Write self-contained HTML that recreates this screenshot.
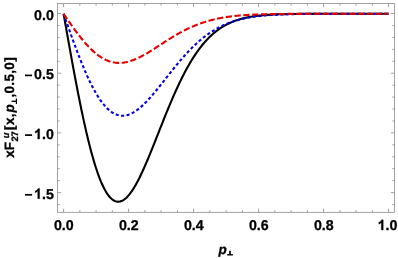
<!DOCTYPE html><html><head><meta charset="utf-8"><style>html,body{margin:0;padding:0;background:#fff}svg{display:block;will-change:transform;text-rendering:geometricPrecision}</style></head><body><svg width="398" height="258" viewBox="0 0 398 258">
<rect width="398" height="258" fill="#fff"/>
<path d="M63.60,212.30 v-3.70 M63.60,3.50 v3.70 M79.85,212.30 v-2.20 M79.85,3.50 v2.20 M96.10,212.30 v-2.20 M96.10,3.50 v2.20 M112.35,212.30 v-2.20 M112.35,3.50 v2.20 M128.60,212.30 v-3.70 M128.60,3.50 v3.70 M144.85,212.30 v-2.20 M144.85,3.50 v2.20 M161.10,212.30 v-2.20 M161.10,3.50 v2.20 M177.35,212.30 v-2.20 M177.35,3.50 v2.20 M193.60,212.30 v-3.70 M193.60,3.50 v3.70 M209.85,212.30 v-2.20 M209.85,3.50 v2.20 M226.10,212.30 v-2.20 M226.10,3.50 v2.20 M242.35,212.30 v-2.20 M242.35,3.50 v2.20 M258.60,212.30 v-3.70 M258.60,3.50 v3.70 M274.85,212.30 v-2.20 M274.85,3.50 v2.20 M291.10,212.30 v-2.20 M291.10,3.50 v2.20 M307.35,212.30 v-2.20 M307.35,3.50 v2.20 M323.60,212.30 v-3.70 M323.60,3.50 v3.70 M339.85,212.30 v-2.20 M339.85,3.50 v2.20 M356.10,212.30 v-2.20 M356.10,3.50 v2.20 M372.35,212.30 v-2.20 M372.35,3.50 v2.20 M388.60,212.30 v-3.70 M388.60,3.50 v3.70 M57.50,13.50 h3.70 M394.50,13.50 h-3.70 M57.50,25.44 h2.20 M394.50,25.44 h-2.20 M57.50,37.38 h2.20 M394.50,37.38 h-2.20 M57.50,49.32 h2.20 M394.50,49.32 h-2.20 M57.50,61.26 h2.20 M394.50,61.26 h-2.20 M57.50,73.20 h3.70 M394.50,73.20 h-3.70 M57.50,85.14 h2.20 M394.50,85.14 h-2.20 M57.50,97.08 h2.20 M394.50,97.08 h-2.20 M57.50,109.02 h2.20 M394.50,109.02 h-2.20 M57.50,120.96 h2.20 M394.50,120.96 h-2.20 M57.50,132.90 h3.70 M394.50,132.90 h-3.70 M57.50,144.84 h2.20 M394.50,144.84 h-2.20 M57.50,156.78 h2.20 M394.50,156.78 h-2.20 M57.50,168.72 h2.20 M394.50,168.72 h-2.20 M57.50,180.66 h2.20 M394.50,180.66 h-2.20 M57.50,192.60 h3.70 M394.50,192.60 h-3.70 M57.50,204.54 h2.20 M394.50,204.54 h-2.20" stroke="#858585" stroke-width="0.75" fill="none"/>
<rect x="57.50" y="3.50" width="337.00" height="208.80" fill="none" stroke="#858585" stroke-width="0.75"/>
<clipPath id="c"><rect x="57.50" y="3.50" width="337.00" height="208.80"/></clipPath>
<g clip-path="url(#c)" fill="none" stroke-width="2.1">
<path d="M63.60,13.80 L64.41,18.41 L65.22,23.02 L66.04,27.62 L66.85,32.21 L67.66,36.79 L68.47,41.35 L69.29,45.90 L70.10,50.42 L70.91,54.92 L71.72,59.39 L72.54,63.84 L73.35,68.25 L74.16,72.62 L74.98,76.96 L75.79,81.25 L76.60,85.50 L77.41,89.70 L78.22,93.86 L79.04,97.96 L79.85,102.01 L80.66,106.00 L81.47,109.93 L82.29,113.80 L83.10,117.61 L83.91,121.35 L84.72,125.02 L85.54,128.62 L86.35,132.15 L87.16,135.60 L87.97,138.98 L88.79,142.29 L89.60,145.51 L90.41,148.65 L91.23,151.71 L92.04,154.69 L92.85,157.58 L93.66,160.38 L94.47,163.10 L95.29,165.73 L96.10,168.26 L96.91,170.71 L97.72,173.07 L98.54,175.33 L99.35,177.51 L100.16,179.58 L100.97,181.57 L101.79,183.46 L102.60,185.26 L103.41,186.96 L104.22,188.57 L105.04,190.08 L105.85,191.50 L106.66,192.82 L107.47,194.05 L108.29,195.19 L109.10,196.23 L109.91,197.18 L110.72,198.04 L111.54,198.80 L112.35,199.47 L113.16,200.05 L113.97,200.55 L114.79,200.95 L115.60,201.27 L116.41,201.50 L117.22,201.64 L118.04,201.70 L118.85,201.67 L119.66,201.57 L120.47,201.38 L121.29,201.11 L122.10,200.77 L122.91,200.34 L123.72,199.85 L124.54,199.27 L125.35,198.63 L126.16,197.92 L126.97,197.14 L127.79,196.29 L128.60,195.37 L129.41,194.39 L130.22,193.35 L131.04,192.25 L131.85,191.09 L132.66,189.88 L133.47,188.61 L134.29,187.29 L135.10,185.91 L135.91,184.49 L136.72,183.02 L137.54,181.51 L138.35,179.95 L139.16,178.35 L139.97,176.71 L140.79,175.03 L141.60,173.32 L142.41,171.58 L143.22,169.80 L144.04,167.99 L144.85,166.15 L145.66,164.29 L146.47,162.40 L147.29,160.49 L148.10,158.56 L148.91,156.61 L149.72,154.64 L150.54,152.65 L151.35,150.65 L152.16,148.64 L152.98,146.62 L153.79,144.59 L154.60,142.55 L155.41,140.50 L156.22,138.45 L157.04,136.39 L157.85,134.34 L158.66,132.28 L159.47,130.22 L160.29,128.17 L161.10,126.12 L161.91,124.07 L162.72,122.03 L163.54,120.00 L164.35,117.97 L165.16,115.96 L165.97,113.95 L166.79,111.96 L167.60,109.98 L168.41,108.01 L169.22,106.06 L170.04,104.12 L170.85,102.20 L171.66,100.29 L172.47,98.40 L173.29,96.53 L174.10,94.68 L174.91,92.85 L175.72,91.04 L176.54,89.25 L177.35,87.48 L178.16,85.73 L178.97,84.01 L179.79,82.31 L180.60,80.63 L181.41,78.97 L182.22,77.34 L183.04,75.74 L183.85,74.15 L184.66,72.60 L185.47,71.06 L186.29,69.55 L187.10,68.07 L187.91,66.62 L188.72,65.18 L189.54,63.78 L190.35,62.40 L191.16,61.04 L191.97,59.71 L192.79,58.41 L193.60,57.13 L194.41,55.88 L195.22,54.66 L196.04,53.46 L196.85,52.28 L197.66,51.13 L198.47,50.00 L199.29,48.90 L200.10,47.83 L200.91,46.78 L201.72,45.75 L202.54,44.75 L203.35,43.77 L204.16,42.81 L204.97,41.88 L205.79,40.97 L206.60,40.09 L207.41,39.22 L208.22,38.38 L209.04,37.56 L209.85,36.76 L210.66,35.98 L211.47,35.23 L212.29,34.49 L213.10,33.78 L213.91,33.08 L214.72,32.41 L215.54,31.75 L216.35,31.11 L217.16,30.49 L217.97,29.89 L218.79,29.31 L219.60,28.74 L220.41,28.19 L221.22,27.66 L222.04,27.14 L222.85,26.64 L223.66,26.16 L224.47,25.69 L225.29,25.24 L226.10,24.80 L226.91,24.37 L227.72,23.96 L228.54,23.56 L229.35,23.18 L230.16,22.81 L230.97,22.45 L231.79,22.10 L232.60,21.77 L233.41,21.45 L234.22,21.13 L235.04,20.83 L235.85,20.54 L236.66,20.26 L237.47,19.99 L238.29,19.73 L239.10,19.48 L239.91,19.24 L240.72,19.01 L241.54,18.79 L242.35,18.57 L243.16,18.37 L243.98,18.17 L244.79,17.98 L245.60,17.79 L246.41,17.62 L247.22,17.45 L248.04,17.28 L248.85,17.13 L249.66,16.98 L250.47,16.83 L251.29,16.69 L252.10,16.56 L252.91,16.43 L253.72,16.31 L254.54,16.19 L255.35,16.08 L256.16,15.98 L256.98,15.87 L257.79,15.77 L258.60,15.68 L259.41,15.59 L260.23,15.50 L261.04,15.42 L261.85,15.34 L262.66,15.27 L263.48,15.20 L264.29,15.13 L265.10,15.06 L265.91,15.00 L266.73,14.94 L267.54,14.88 L268.35,14.83 L269.16,14.77 L269.98,14.73 L270.79,14.68 L271.60,14.63 L272.41,14.59 L273.23,14.55 L274.04,14.51 L274.85,14.47 L275.66,14.44 L276.48,14.40 L277.29,14.37 L278.10,14.34 L278.91,14.31 L279.73,14.29 L280.54,14.26 L281.35,14.23 L282.16,14.21 L282.98,14.19 L283.79,14.17 L284.60,14.15 L285.41,14.13 L286.23,14.11 L287.04,14.09 L287.85,14.08 L288.66,14.06 L289.47,14.05 L290.29,14.03 L291.10,14.02 L291.91,14.01 L292.73,13.99 L293.54,13.98 L294.35,13.97 L295.16,13.96 L295.98,13.95 L296.79,13.94 L297.60,13.94 L298.41,13.93 L299.23,13.92 L300.04,13.91 L300.85,13.91 L301.66,13.90 L302.48,13.89 L303.29,13.89 L304.10,13.88 L304.91,13.88 L305.73,13.87 L306.54,13.87 L307.35,13.87 L308.16,13.86 L308.98,13.86 L309.79,13.85 L310.60,13.85 L311.41,13.85 L312.23,13.84 L313.04,13.84 L313.85,13.84 L314.66,13.84 L315.48,13.83 L316.29,13.83 L317.10,13.83 L317.91,13.83 L318.73,13.83 L319.54,13.82 L320.35,13.82 L321.16,13.82 L321.98,13.82 L322.79,13.82 L323.60,13.82 L324.41,13.82 L325.23,13.82 L326.04,13.81 L326.85,13.81 L327.66,13.81 L328.48,13.81 L329.29,13.81 L330.10,13.81 L330.91,13.81 L331.73,13.81 L332.54,13.81 L333.35,13.81 L334.16,13.81 L334.98,13.81 L335.79,13.81 L336.60,13.81 L337.41,13.81 L338.23,13.81 L339.04,13.80 L339.85,13.80 L340.66,13.80 L341.48,13.80 L342.29,13.80 L343.10,13.80 L343.91,13.80 L344.73,13.80 L345.54,13.80 L346.35,13.80 L347.16,13.80 L347.98,13.80 L348.79,13.80 L349.60,13.80 L350.41,13.80 L351.23,13.80 L352.04,13.80 L352.85,13.80 L353.66,13.80 L354.48,13.80 L355.29,13.80 L356.10,13.80 L356.91,13.80 L357.73,13.80 L358.54,13.80 L359.35,13.80 L360.16,13.80 L360.98,13.80 L361.79,13.80 L362.60,13.80 L363.41,13.80 L364.23,13.80 L365.04,13.80 L365.85,13.80 L366.66,13.80 L367.48,13.80 L368.29,13.80 L369.10,13.80 L369.91,13.80 L370.73,13.80 L371.54,13.80 L372.35,13.80 L373.16,13.80 L373.98,13.80 L374.79,13.80 L375.60,13.80 L376.41,13.80 L377.23,13.80 L378.04,13.80 L378.85,13.80 L379.66,13.80 L380.48,13.80 L381.29,13.80 L382.10,13.80 L382.91,13.80 L383.73,13.80 L384.54,13.80 L385.35,13.80 L386.16,13.80 L386.98,13.80 L387.79,13.80 L388.60,13.80" stroke="#000"/>
<path d="M63.60,13.80 L64.41,16.12 L65.22,18.43 L66.04,20.75 L66.85,23.06 L67.66,25.36 L68.47,27.66 L69.29,29.95 L70.10,32.23 L70.91,34.50 L71.72,36.76 L72.54,39.01 L73.35,41.24 L74.16,43.45 L74.98,45.65 L75.79,47.83 L76.60,49.99 L77.41,52.14 L78.22,54.26 L79.04,56.35 L79.85,58.43 L80.66,60.48 L81.47,62.50 L82.29,64.49 L83.10,66.46 L83.91,68.40 L84.72,70.31 L85.54,72.19 L86.35,74.04 L87.16,75.85 L87.97,77.63 L88.79,79.38 L89.60,81.09 L90.41,82.76 L91.23,84.40 L92.04,86.00 L92.85,87.56 L93.66,89.09 L94.47,90.57 L95.29,92.02 L96.10,93.42 L96.91,94.78 L97.72,96.11 L98.54,97.39 L99.35,98.63 L100.16,99.82 L100.97,100.98 L101.79,102.09 L102.60,103.15 L103.41,104.18 L104.22,105.16 L105.04,106.09 L105.85,106.98 L106.66,107.83 L107.47,108.63 L108.29,109.39 L109.10,110.11 L109.91,110.78 L110.72,111.41 L111.54,111.99 L112.35,112.53 L113.16,113.03 L113.97,113.48 L114.79,113.89 L115.60,114.26 L116.41,114.58 L117.22,114.86 L118.04,115.10 L118.85,115.30 L119.66,115.46 L120.47,115.58 L121.29,115.66 L122.10,115.70 L122.91,115.69 L123.72,115.66 L124.54,115.58 L125.35,115.46 L126.16,115.31 L126.97,115.12 L127.79,114.90 L128.60,114.64 L129.41,114.35 L130.22,114.03 L131.04,113.67 L131.85,113.28 L132.66,112.86 L133.47,112.40 L134.29,111.92 L135.10,111.41 L135.91,110.87 L136.72,110.30 L137.54,109.71 L138.35,109.09 L139.16,108.44 L139.97,107.77 L140.79,107.08 L141.60,106.36 L142.41,105.62 L143.22,104.86 L144.04,104.08 L144.85,103.29 L145.66,102.47 L146.47,101.63 L147.29,100.78 L148.10,99.91 L148.91,99.03 L149.72,98.13 L150.54,97.21 L151.35,96.29 L152.16,95.35 L152.98,94.40 L153.79,93.44 L154.60,92.47 L155.41,91.49 L156.22,90.50 L157.04,89.51 L157.85,88.51 L158.66,87.50 L159.47,86.48 L160.29,85.46 L161.10,84.44 L161.91,83.42 L162.72,82.39 L163.54,81.35 L164.35,80.32 L165.16,79.29 L165.97,78.25 L166.79,77.22 L167.60,76.19 L168.41,75.15 L169.22,74.12 L170.04,73.10 L170.85,72.07 L171.66,71.05 L172.47,70.03 L173.29,69.02 L174.10,68.01 L174.91,67.01 L175.72,66.02 L176.54,65.03 L177.35,64.04 L178.16,63.07 L178.97,62.10 L179.79,61.13 L180.60,60.18 L181.41,59.24 L182.22,58.30 L183.04,57.37 L183.85,56.45 L184.66,55.55 L185.47,54.65 L186.29,53.76 L187.10,52.88 L187.91,52.01 L188.72,51.15 L189.54,50.31 L190.35,49.47 L191.16,48.64 L191.97,47.83 L192.79,47.03 L193.60,46.24 L194.41,45.46 L195.22,44.69 L196.04,43.93 L196.85,43.19 L197.66,42.46 L198.47,41.74 L199.29,41.03 L200.10,40.33 L200.91,39.65 L201.72,38.98 L202.54,38.31 L203.35,37.67 L204.16,37.03 L204.97,36.40 L205.79,35.79 L206.60,35.19 L207.41,34.60 L208.22,34.02 L209.04,33.46 L209.85,32.90 L210.66,32.36 L211.47,31.83 L212.29,31.31 L213.10,30.80 L213.91,30.30 L214.72,29.82 L215.54,29.34 L216.35,28.88 L217.16,28.42 L217.97,27.98 L218.79,27.55 L219.60,27.12 L220.41,26.71 L221.22,26.31 L222.04,25.92 L222.85,25.53 L223.66,25.16 L224.47,24.80 L225.29,24.44 L226.10,24.10 L226.91,23.76 L227.72,23.43 L228.54,23.12 L229.35,22.81 L230.16,22.50 L230.97,22.21 L231.79,21.93 L232.60,21.65 L233.41,21.38 L234.22,21.12 L235.04,20.86 L235.85,20.62 L236.66,20.38 L237.47,20.15 L238.29,19.92 L239.10,19.70 L239.91,19.49 L240.72,19.28 L241.54,19.09 L242.35,18.89 L243.16,18.71 L243.98,18.52 L244.79,18.35 L245.60,18.18 L246.41,18.01 L247.22,17.85 L248.04,17.70 L248.85,17.55 L249.66,17.41 L250.47,17.27 L251.29,17.13 L252.10,17.00 L252.91,16.88 L253.72,16.76 L254.54,16.64 L255.35,16.53 L256.16,16.42 L256.98,16.31 L257.79,16.21 L258.60,16.11 L259.41,16.02 L260.23,15.93 L261.04,15.84 L261.85,15.76 L262.66,15.68 L263.48,15.60 L264.29,15.52 L265.10,15.45 L265.91,15.38 L266.73,15.31 L267.54,15.25 L268.35,15.19 L269.16,15.13 L269.98,15.07 L270.79,15.01 L271.60,14.96 L272.41,14.91 L273.23,14.86 L274.04,14.81 L274.85,14.77 L275.66,14.72 L276.48,14.68 L277.29,14.64 L278.10,14.61 L278.91,14.57 L279.73,14.53 L280.54,14.50 L281.35,14.47 L282.16,14.44 L282.98,14.41 L283.79,14.38 L284.60,14.35 L285.41,14.33 L286.23,14.30 L287.04,14.28 L287.85,14.25 L288.66,14.23 L289.47,14.21 L290.29,14.19 L291.10,14.17 L291.91,14.15 L292.73,14.14 L293.54,14.12 L294.35,14.11 L295.16,14.09 L295.98,14.08 L296.79,14.06 L297.60,14.05 L298.41,14.04 L299.23,14.02 L300.04,14.01 L300.85,14.00 L301.66,13.99 L302.48,13.98 L303.29,13.97 L304.10,13.96 L304.91,13.96 L305.73,13.95 L306.54,13.94 L307.35,13.93 L308.16,13.93 L308.98,13.92 L309.79,13.91 L310.60,13.91 L311.41,13.90 L312.23,13.90 L313.04,13.89 L313.85,13.89 L314.66,13.88 L315.48,13.88 L316.29,13.87 L317.10,13.87 L317.91,13.86 L318.73,13.86 L319.54,13.86 L320.35,13.85 L321.16,13.85 L321.98,13.85 L322.79,13.85 L323.60,13.84 L324.41,13.84 L325.23,13.84 L326.04,13.84 L326.85,13.83 L327.66,13.83 L328.48,13.83 L329.29,13.83 L330.10,13.83 L330.91,13.83 L331.73,13.82 L332.54,13.82 L333.35,13.82 L334.16,13.82 L334.98,13.82 L335.79,13.82 L336.60,13.82 L337.41,13.82 L338.23,13.81 L339.04,13.81 L339.85,13.81 L340.66,13.81 L341.48,13.81 L342.29,13.81 L343.10,13.81 L343.91,13.81 L344.73,13.81 L345.54,13.81 L346.35,13.81 L347.16,13.81 L347.98,13.81 L348.79,13.81 L349.60,13.81 L350.41,13.81 L351.23,13.81 L352.04,13.81 L352.85,13.80 L353.66,13.80 L354.48,13.80 L355.29,13.80 L356.10,13.80 L356.91,13.80 L357.73,13.80 L358.54,13.80 L359.35,13.80 L360.16,13.80 L360.98,13.80 L361.79,13.80 L362.60,13.80 L363.41,13.80 L364.23,13.80 L365.04,13.80 L365.85,13.80 L366.66,13.80 L367.48,13.80 L368.29,13.80 L369.10,13.80 L369.91,13.80 L370.73,13.80 L371.54,13.80 L372.35,13.80 L373.16,13.80 L373.98,13.80 L374.79,13.80 L375.60,13.80 L376.41,13.80 L377.23,13.80 L378.04,13.80 L378.85,13.80 L379.66,13.80 L380.48,13.80 L381.29,13.80 L382.10,13.80 L382.91,13.80 L383.73,13.80 L384.54,13.80 L385.35,13.80 L386.16,13.80 L386.98,13.80 L387.79,13.80 L388.60,13.80" stroke="#0000e6" stroke-dasharray="3.1 2.39"/>
<path d="M63.60,13.80 L64.41,14.98 L65.22,16.16 L66.04,17.35 L66.85,18.52 L67.66,19.70 L68.47,20.87 L69.29,22.04 L70.10,23.20 L70.91,24.35 L71.72,25.50 L72.54,26.64 L73.35,27.78 L74.16,28.90 L74.98,30.02 L75.79,31.12 L76.60,32.21 L77.41,33.30 L78.22,34.37 L79.04,35.42 L79.85,36.47 L80.66,37.50 L81.47,38.51 L82.29,39.51 L83.10,40.49 L83.91,41.46 L84.72,42.41 L85.54,43.35 L86.35,44.26 L87.16,45.16 L87.97,46.03 L88.79,46.89 L89.60,47.73 L90.41,48.55 L91.23,49.35 L92.04,50.12 L92.85,50.88 L93.66,51.61 L94.47,52.33 L95.29,53.02 L96.10,53.68 L96.91,54.33 L97.72,54.95 L98.54,55.55 L99.35,56.13 L100.16,56.68 L100.97,57.21 L101.79,57.71 L102.60,58.20 L103.41,58.65 L104.22,59.09 L105.04,59.50 L105.85,59.89 L106.66,60.25 L107.47,60.59 L108.29,60.90 L109.10,61.19 L109.91,61.46 L110.72,61.71 L111.54,61.93 L112.35,62.13 L113.16,62.30 L113.97,62.45 L114.79,62.58 L115.60,62.69 L116.41,62.77 L117.22,62.84 L118.04,62.88 L118.85,62.90 L119.66,62.90 L120.47,62.87 L121.29,62.83 L122.10,62.77 L122.91,62.69 L123.72,62.59 L124.54,62.46 L125.35,62.32 L126.16,62.17 L126.97,61.99 L127.79,61.80 L128.60,61.59 L129.41,61.36 L130.22,61.12 L131.04,60.86 L131.85,60.58 L132.66,60.29 L133.47,59.99 L134.29,59.67 L135.10,59.34 L135.91,59.00 L136.72,58.64 L137.54,58.27 L138.35,57.89 L139.16,57.50 L139.97,57.09 L140.79,56.68 L141.60,56.26 L142.41,55.82 L143.22,55.38 L144.04,54.93 L144.85,54.48 L145.66,54.01 L146.47,53.54 L147.29,53.06 L148.10,52.57 L148.91,52.08 L149.72,51.59 L150.54,51.09 L151.35,50.58 L152.16,50.07 L152.98,49.56 L153.79,49.04 L154.60,48.52 L155.41,48.00 L156.22,47.48 L157.04,46.95 L157.85,46.43 L158.66,45.90 L159.47,45.37 L160.29,44.84 L161.10,44.32 L161.91,43.79 L162.72,43.26 L163.54,42.74 L164.35,42.21 L165.16,41.69 L165.97,41.17 L166.79,40.65 L167.60,40.14 L168.41,39.63 L169.22,39.12 L170.04,38.61 L170.85,38.11 L171.66,37.61 L172.47,37.11 L173.29,36.62 L174.10,36.14 L174.91,35.65 L175.72,35.18 L176.54,34.70 L177.35,34.24 L178.16,33.77 L178.97,33.32 L179.79,32.87 L180.60,32.42 L181.41,31.98 L182.22,31.55 L183.04,31.12 L183.85,30.69 L184.66,30.28 L185.47,29.87 L186.29,29.46 L187.10,29.06 L187.91,28.67 L188.72,28.29 L189.54,27.91 L190.35,27.54 L191.16,27.17 L191.97,26.81 L192.79,26.46 L193.60,26.11 L194.41,25.77 L195.22,25.44 L196.04,25.11 L196.85,24.79 L197.66,24.47 L198.47,24.16 L199.29,23.86 L200.10,23.57 L200.91,23.28 L201.72,23.00 L202.54,22.72 L203.35,22.45 L204.16,22.18 L204.97,21.93 L205.79,21.67 L206.60,21.43 L207.41,21.19 L208.22,20.95 L209.04,20.72 L209.85,20.50 L210.66,20.28 L211.47,20.07 L212.29,19.87 L213.10,19.66 L213.91,19.47 L214.72,19.28 L215.54,19.09 L216.35,18.91 L217.16,18.74 L217.97,18.57 L218.79,18.40 L219.60,18.24 L220.41,18.08 L221.22,17.93 L222.04,17.78 L222.85,17.64 L223.66,17.50 L224.47,17.37 L225.29,17.23 L226.10,17.11 L226.91,16.99 L227.72,16.87 L228.54,16.75 L229.35,16.64 L230.16,16.53 L230.97,16.43 L231.79,16.33 L232.60,16.23 L233.41,16.13 L234.22,16.04 L235.04,15.95 L235.85,15.87 L236.66,15.79 L237.47,15.71 L238.29,15.63 L239.10,15.56 L239.91,15.48 L240.72,15.42 L241.54,15.35 L242.35,15.28 L243.16,15.22 L243.98,15.16 L244.79,15.11 L245.60,15.05 L246.41,15.00 L247.22,14.95 L248.04,14.90 L248.85,14.85 L249.66,14.80 L250.47,14.76 L251.29,14.72 L252.10,14.68 L252.91,14.64 L253.72,14.60 L254.54,14.57 L255.35,14.53 L256.16,14.50 L256.98,14.47 L257.79,14.44 L258.60,14.41 L259.41,14.38 L260.23,14.35 L261.04,14.33 L261.85,14.30 L262.66,14.28 L263.48,14.26 L264.29,14.23 L265.10,14.21 L265.91,14.19 L266.73,14.17 L267.54,14.16 L268.35,14.14 L269.16,14.12 L269.98,14.11 L270.79,14.09 L271.60,14.08 L272.41,14.06 L273.23,14.05 L274.04,14.04 L274.85,14.03 L275.66,14.01 L276.48,14.00 L277.29,13.99 L278.10,13.98 L278.91,13.97 L279.73,13.97 L280.54,13.96 L281.35,13.95 L282.16,13.94 L282.98,13.93 L283.79,13.93 L284.60,13.92 L285.41,13.91 L286.23,13.91 L287.04,13.90 L287.85,13.90 L288.66,13.89 L289.47,13.89 L290.29,13.88 L291.10,13.88 L291.91,13.87 L292.73,13.87 L293.54,13.86 L294.35,13.86 L295.16,13.86 L295.98,13.85 L296.79,13.85 L297.60,13.85 L298.41,13.85 L299.23,13.84 L300.04,13.84 L300.85,13.84 L301.66,13.84 L302.48,13.83 L303.29,13.83 L304.10,13.83 L304.91,13.83 L305.73,13.83 L306.54,13.83 L307.35,13.82 L308.16,13.82 L308.98,13.82 L309.79,13.82 L310.60,13.82 L311.41,13.82 L312.23,13.82 L313.04,13.82 L313.85,13.81 L314.66,13.81 L315.48,13.81 L316.29,13.81 L317.10,13.81 L317.91,13.81 L318.73,13.81 L319.54,13.81 L320.35,13.81 L321.16,13.81 L321.98,13.81 L322.79,13.81 L323.60,13.81 L324.41,13.81 L325.23,13.81 L326.04,13.81 L326.85,13.81 L327.66,13.80 L328.48,13.80 L329.29,13.80 L330.10,13.80 L330.91,13.80 L331.73,13.80 L332.54,13.80 L333.35,13.80 L334.16,13.80 L334.98,13.80 L335.79,13.80 L336.60,13.80 L337.41,13.80 L338.23,13.80 L339.04,13.80 L339.85,13.80 L340.66,13.80 L341.48,13.80 L342.29,13.80 L343.10,13.80 L343.91,13.80 L344.73,13.80 L345.54,13.80 L346.35,13.80 L347.16,13.80 L347.98,13.80 L348.79,13.80 L349.60,13.80 L350.41,13.80 L351.23,13.80 L352.04,13.80 L352.85,13.80 L353.66,13.80 L354.48,13.80 L355.29,13.80 L356.10,13.80 L356.91,13.80 L357.73,13.80 L358.54,13.80 L359.35,13.80 L360.16,13.80 L360.98,13.80 L361.79,13.80 L362.60,13.80 L363.41,13.80 L364.23,13.80 L365.04,13.80 L365.85,13.80 L366.66,13.80 L367.48,13.80 L368.29,13.80 L369.10,13.80 L369.91,13.80 L370.73,13.80 L371.54,13.80 L372.35,13.80 L373.16,13.80 L373.98,13.80 L374.79,13.80 L375.60,13.80 L376.41,13.80 L377.23,13.80 L378.04,13.80 L378.85,13.80 L379.66,13.80 L380.48,13.80 L381.29,13.80 L382.10,13.80 L382.91,13.80 L383.73,13.80 L384.54,13.80 L385.35,13.80 L386.16,13.80 L386.98,13.80 L387.79,13.80 L388.60,13.80" stroke="#e60000" stroke-dasharray="6.3 2.53"/>
</g>
<g font-family="Liberation Sans, sans-serif" font-weight="bold" font-size="14.2" fill="#000" stroke="#000" stroke-width="0.3">
<text x="63.80" y="230.0" text-anchor="middle">0.0</text>
<text x="128.80" y="230.0" text-anchor="middle">0.2</text>
<text x="193.80" y="230.0" text-anchor="middle">0.4</text>
<text x="258.80" y="230.0" text-anchor="middle">0.6</text>
<text x="323.80" y="230.0" text-anchor="middle">0.8</text>
<text x="397.40" y="230.00" text-anchor="end">.0</text><path transform="translate(377.66,230.00) scale(0.00693,-0.00693)" d="M806 0 H525 V1059 Q371 915 162 846 V1101 Q272 1137 401 1237.5 Q530 1338 578 1472 H806 Z" stroke-width="43.3"/>
<text x="53.80" y="19.60" text-anchor="end">0.0</text>
<text x="53.80" y="79.30" text-anchor="end">0.5</text>
<rect x="25.0" y="74.55" width="7.1" height="1.7" stroke="none"/>
<text x="53.80" y="139.00" text-anchor="end">.0</text><path transform="translate(34.06,139.00) scale(0.00693,-0.00693)" d="M806 0 H525 V1059 Q371 915 162 846 V1101 Q272 1137 401 1237.5 Q530 1338 578 1472 H806 Z" stroke-width="43.3"/>
<rect x="25.0" y="134.25" width="7.1" height="1.7" stroke="none"/>
<text x="53.80" y="198.70" text-anchor="end">.5</text><path transform="translate(34.06,198.70) scale(0.00693,-0.00693)" d="M806 0 H525 V1059 Q371 915 162 846 V1101 Q272 1137 401 1237.5 Q530 1338 578 1472 H806 Z" stroke-width="43.3"/>
<rect x="25.0" y="193.95" width="7.1" height="1.7" stroke="none"/>
</g>
<text x="218.6" y="253.7" font-family="Liberation Sans, sans-serif" font-weight="bold" font-style="italic" font-size="13.5" fill="#000" stroke="#000" stroke-width="0.3">p</text>
<path d="M227.1,254.8 H232.9" stroke="#000" stroke-width="1.4" fill="none"/><path d="M230.0,250.7 V254.8" stroke="#000" stroke-width="1.7" fill="none"/>
<g transform="translate(14.1,158) rotate(-90)" font-family="Liberation Sans, sans-serif" font-weight="bold" font-size="13.5" fill="#000" stroke="#000" stroke-width="0.3">
<text x="0.2" y="0">xF</text>
<text x="16.4" y="3.5" font-size="9.4">27</text>
<text x="19.8" y="-5.6" font-size="9.4" font-style="italic">u</text>
<text x="28.1" y="0" textLength="16.5">[x,</text>
<text x="45.6" y="0" font-style="italic">p</text>
<path d="M53.9,2.3 H59.5" stroke="#000" stroke-width="1.2" fill="none"/><path d="M56.7,-2.5 V2.3" stroke="#000" stroke-width="1.35" fill="none"/>
<text x="60.4" y="0" textLength="40.3">,0.5,0]</text>
</g>
</svg></body></html>
